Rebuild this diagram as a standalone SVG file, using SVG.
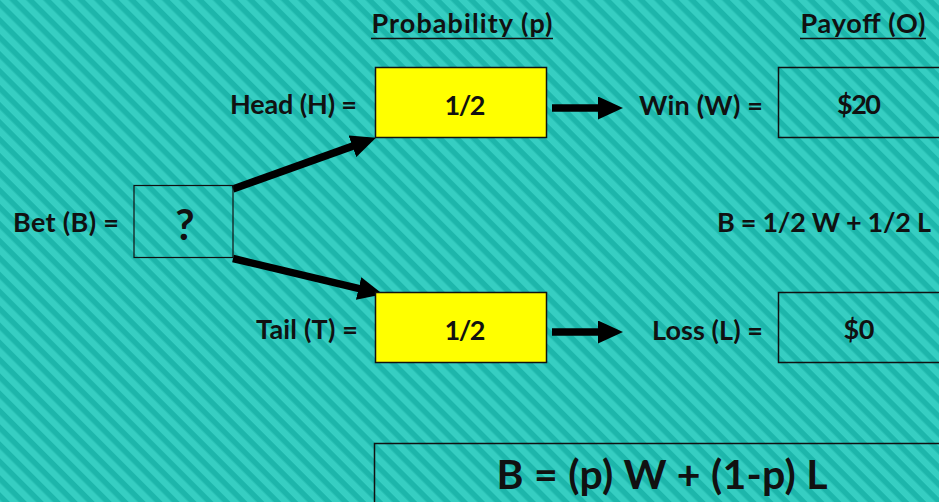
<svg xmlns="http://www.w3.org/2000/svg" width="939" height="502" viewBox="0 0 939 502">
  <defs>
    <pattern id="stripes" patternUnits="userSpaceOnUse" width="12" height="12" patternTransform="rotate(45)">
      <rect x="0" y="0" width="12" height="12" fill="#36cec2"/>
      <rect x="0" y="0" width="12" height="5.5" fill="#1db6ab"/>
    </pattern>
    <marker id="ah" markerUnits="userSpaceOnUse" viewBox="0 0 25 23" refX="4" refY="11.5" markerWidth="25" markerHeight="23" orient="auto">
      <path d="M0,0 L25,11.5 L0,23 Z" fill="#000"/>
    </marker>
    <style>
      text { font-family: Lato, "Liberation Sans", Arial, sans-serif; font-weight: bold; fill: #111; }
      .lbl { font-size: 27px; }
      .mid { text-anchor: middle; }
      .end { text-anchor: end; }
      .prob { fill: #ffff00; stroke: #111; stroke-width: 1.5; }
      .pay { fill: none; stroke: #111; stroke-width: 1.5; }
      .conn { stroke: #000; stroke-width: 7.5; fill: none; marker-end: url(#ah); }
      .ul { stroke: #111; stroke-width: 1.6; }
    </style>
  </defs>

  <rect x="0" y="0" width="939" height="502" fill="url(#stripes)"/>

  <g id="header-probability">
    <text class="lbl mid" x="462" y="33" textLength="181">Probability (p)</text>
    <line class="ul" x1="371" y1="38.5" x2="553" y2="38.5"/>
  </g>
  <g id="header-payoff">
    <text class="lbl mid" x="863" y="33" textLength="125">Payoff (O)</text>
    <line class="ul" x1="800" y1="38.5" x2="926" y2="38.5"/>
  </g>

  <g id="connectors">
    <line class="conn" x1="233" y1="189" x2="356.2" y2="144.9"/>
    <line class="conn" x1="233" y1="258.5" x2="362.5" y2="289.4"/>
    <line class="conn" x1="552" y1="108" x2="602" y2="108"/>
    <line class="conn" x1="552" y1="332" x2="602" y2="332"/>
  </g>

  <g id="bet">
    <text class="lbl end" x="119" y="232" textLength="106">Bet (B) =</text>
    <rect x="134" y="185.5" width="99" height="72" fill="none" stroke="#111" stroke-width="1.2"/>
    <text class="mid" x="185" y="240" style="font-size:42px">?</text>
  </g>

  <g id="head">
    <text class="lbl end" x="357" y="114" textLength="127">Head (H) =</text>
    <rect class="prob" x="375.5" y="67.5" width="171" height="70"/>
    <text class="lbl mid" x="465" y="115" textLength="41">1/2</text>
  </g>

  <g id="tail">
    <text class="lbl end" x="358" y="339" textLength="102">Tail (T) =</text>
    <rect class="prob" x="375.5" y="292.5" width="171" height="70"/>
    <text class="lbl mid" x="465" y="340" textLength="41">1/2</text>
  </g>

  <g id="win">
    <text class="lbl end" x="763" y="115" textLength="124">Win (W) =</text>
    <rect class="pay" x="778.5" y="67.5" width="175" height="70"/>
    <text class="lbl mid" x="859" y="114" textLength="44">$20</text>
  </g>

  <g id="loss">
    <text class="lbl end" x="763" y="340" textLength="111">Loss (L) =</text>
    <rect class="pay" x="778.5" y="292.5" width="175" height="70"/>
    <text class="lbl mid" x="859" y="339" textLength="31">$0</text>
  </g>

  <g id="expected">
    <text class="lbl end" x="931" y="232" textLength="214">B = 1/2 W + 1/2 L</text>
  </g>

  <g id="formula">
    <rect x="374.5" y="443.5" width="580" height="80" fill="none" stroke="#111" stroke-width="1.5"/>
    <text class="mid" x="662" y="489" style="font-size:41px" textLength="331">B = (p) W + (1-p) L</text>
  </g>
</svg>
